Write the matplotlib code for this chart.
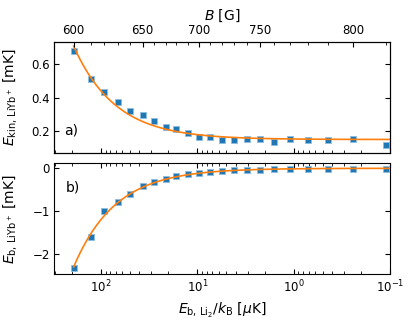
import numpy as np
import matplotlib
matplotlib.use("Agg")
import matplotlib.pyplot as plt
from matplotlib.ticker import MultipleLocator, LogLocator, NullFormatter

# ---- data ----
B_field = [600, 610, 620, 630, 640, 650, 660, 670, 680, 690, 700,
           710, 720, 730, 740, 750, 760, 770, 780, 790, 800, 810]          # G
E_b_Li2 = [193, 128.6, 94.2, 67.3, 50.5, 37.0, 28.4, 21.3, 16.7, 12.6, 9.65,
           7.41, 5.56, 4.17, 3.05, 2.23, 1.60, 1.09, 0.707, 0.438, 0.240, 0.109]  # uK
E_kin = [0.682, 0.510, 0.436, 0.376, 0.320, 0.294, 0.262, 0.222, 0.214, 0.190, 0.166,
         0.166, 0.144, 0.144, 0.152, 0.152, 0.134, 0.154, 0.144, 0.144, 0.152, 0.116]  # mK
E_b_LiYb = [-2.336, -1.612, -1.005, -0.790, -0.593, -0.425, -0.323, -0.247, -0.184,
            -0.140, -0.110, -0.086, -0.068, -0.050, -0.040, -0.030, -0.022, -0.018,
            -0.012, -0.010, -0.006, -0.005]  # mK
top_major = [600, 650, 700, 750, 800]
top_minor = list(range(600, 811, 10))

E = np.array(E_b_Li2)
Bp = np.array(B_field, float)
logE = np.log10(E)

# ---- conversion B -> E_b (table, linear extrapolation in log E) ----
def _interp_ext(x, xp, fp):
    x = np.atleast_1d(np.asarray(x, float))
    y = np.interp(x, xp, fp)
    s0 = (fp[1] - fp[0]) / (xp[1] - xp[0])
    s1 = (fp[-1] - fp[-2]) / (xp[-1] - xp[-2])
    lo = x < xp[0]
    hi = x > xp[-1]
    y[lo] = fp[0] + (x[lo] - xp[0]) * s0
    y[hi] = fp[-1] + (x[hi] - xp[-1]) * s1
    return y

def B_to_E(B):
    return 10 ** _interp_ext(B, Bp, logE)

# ---- fits ----
k_top, c_top = np.polyfit(E, np.array(E_kin), 1)
yb = np.array(E_b_LiYb)
k_bot = np.sum(E * yb) / np.sum(E * E)
xf = np.geomspace(E[0], 0.1, 400)

plt.rcParams['font.family'] = ['DejaVu Sans']
fs_tick = 8.5
fs_lab = 10

fig = plt.figure(figsize=(4.15, 3.24), dpi=100)
ax1 = fig.add_axes([0.1313, 0.5287, 0.8085, 0.3426])
ax2 = fig.add_axes([0.1313, 0.1534, 0.8085, 0.3426], sharex=ax1)

mk = dict(ls='none', marker='s', ms=5, color='#1f77b4', mec='#8fbde0', mew=0.6, zorder=2)
ax1.plot(E, E_kin, **mk)
ax1.plot(xf, c_top + k_top * xf, color='#ff7f0e', lw=1.2, zorder=3)
ax2.plot(E, E_b_LiYb, **mk)
ax2.plot(xf, k_bot * xf, color='#ff7f0e', lw=1.2, zorder=3)

ax1.set_xscale('log')
ax1.set_xlim(305, 0.1)
ax1.set_ylim(0.07, 0.736)
ax2.set_ylim(-2.48, 0.117)

ax1.yaxis.set_major_locator(MultipleLocator(0.2))
ax2.yaxis.set_major_locator(MultipleLocator(1))

for ax in (ax1, ax2):
    ax.xaxis.set_major_locator(LogLocator(base=10))
    ax.xaxis.set_minor_locator(LogLocator(base=10, subs=np.arange(2, 10)))
    ax.xaxis.set_minor_formatter(NullFormatter())
    ax.tick_params(which='both', direction='in', right=True, labelsize=fs_tick)
    ax.tick_params(which='major', length=3.5, width=0.8)
    ax.tick_params(which='minor', length=2, width=0.6)
ax2.tick_params(which='both', top=True)
ax1.tick_params(axis='x', which='both', labelbottom=False, top=False)

# top B axis: ticks placed at the E_b corresponding to each B
axt = ax1.twiny()
axt.set_xscale('log')
axt.set_xlim(ax1.get_xlim())
axt.set_xticks(B_to_E(top_major), labels=[str(b) for b in top_major])
axt.set_xticks(B_to_E(top_minor), minor=True)
axt.xaxis.set_minor_formatter(NullFormatter())
axt.tick_params(which='both', direction='in', labelsize=fs_tick)
axt.tick_params(which='major', length=3.5, width=0.8)
axt.tick_params(which='minor', length=2, width=0.6)
axt.set_xlabel('$B$ [G]', fontsize=fs_lab, labelpad=3)

ax1.set_ylabel(r'$E_\mathrm{kin,\,LiYb^+}$ [mK]', fontsize=fs_lab)
ax2.set_ylabel(r'$E_\mathrm{b,\,LiYb^+}$ [mK]', fontsize=fs_lab)
ax2.set_xlabel(r'$E_\mathrm{b,\,Li_2}/k_\mathrm{B}$ [$\mu$K]', fontsize=fs_lab)
ax1.yaxis.set_label_coords(-0.105, 0.5)
ax2.yaxis.set_label_coords(-0.105, 0.5)

ax1.text(0.03, 0.2, 'a)', transform=ax1.transAxes, fontsize=fs_lab, va='center')
ax2.text(0.035, 0.78, 'b)', transform=ax2.transAxes, fontsize=fs_lab, va='center')

fig.savefig('out.png', dpi=100)
